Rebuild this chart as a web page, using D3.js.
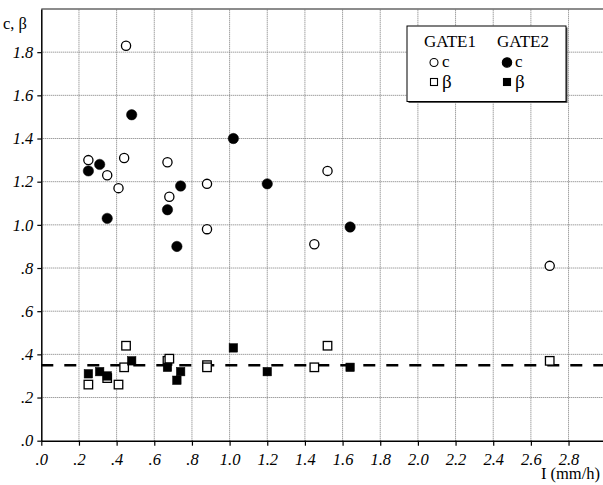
<!DOCTYPE html>
<html>
<head>
  <meta charset="utf-8">
  <title>c, beta vs I</title>
  <script src="https://d3js.org/d3.v7.min.js"></script>
  <style>
    body { margin: 0; background: #fff; }
    svg text { font-family: "Liberation Serif", "Times New Roman", serif; fill: #000; }
    .grid line { stroke: #777; stroke-width: 1; stroke-dasharray: 1,1; }
  </style>
</head>
<body>
  <svg id="screen"></svg>

  <script>
    // data (I in mm/h)
    const gate1_I    = [0.25, 0.35, 0.41, 0.44, 0.45, 0.67, 0.68, 0.88, 0.88, 1.45, 1.52, 2.70]
    const gate1_c    = [1.30, 1.23, 1.17, 1.31, 1.83, 1.29, 1.13, 1.19, 0.98, 0.91, 1.25, 0.81]
    const gate1_beta = [0.26, 0.29, 0.26, 0.34, 0.44, 0.37, 0.38, 0.35, 0.34, 0.34, 0.44, 0.37]

    const gate2_I    = [0.25, 0.31, 0.35, 0.48, 0.67, 0.72, 0.74, 1.02, 1.20, 1.64]
    const gate2_c    = [1.25, 1.28, 1.03, 1.51, 1.07, 0.90, 1.18, 1.40, 1.19, 0.99]
    const gate2_beta = [0.31, 0.32, 0.30, 0.37, 0.34, 0.28, 0.32, 0.43, 0.32, 0.34]

    const meanBeta = 0.35
    const xTicks = [0, 0.2, 0.4, 0.6, 0.8, 1.0, 1.2, 1.4, 1.6, 1.8, 2.0, 2.2, 2.4, 2.6, 2.8]
    const yTicks = [0, 0.2, 0.4, 0.6, 0.8, 1.0, 1.2, 1.4, 1.6, 1.8]

    const W = 603, H = 485
    const SERIF = '"Liberation Serif", "Times New Roman", serif'
    let frame = d3.select('#screen').attr('width', W).attr('height', H)

    let x = d3.scaleLinear().domain([0, 3]).range([41.3, 606.2])
    let y = d3.scaleLinear().domain([0, 2]).range([440.7, 9])

    // ".8" style labels, no leading zero below 1
    const fmt = d => {
      let s = d3.format('.1f')(d)
      return d < 1 ? s.slice(1) : s
    }

    // grid
    let grid = frame.append('g').attr('class', 'grid')
    grid.selectAll('.gx').data(xTicks.slice(1)).enter().append('line')
        .attr('x1', d => x(d)).attr('x2', d => x(d))
        .attr('y1', y(0)).attr('y2', y(2))
    grid.selectAll('.gy').data(yTicks.slice(1)).enter().append('line')
        .attr('x1', x(0)).attr('x2', x(3))
        .attr('y1', d => y(d)).attr('y2', d => y(d))

    // top border
    frame.append('line').attr('x1', x(0)).attr('x2', W)
         .attr('y1', y(2)).attr('y2', y(2))
         .attr('stroke', '#666').attr('stroke-width', 1.5)

    // axes
    let xAxis = frame.append('g').attr('transform', `translate(0,${y(0)})`)
      .call(d3.axisBottom(x).tickValues(xTicks).tickFormat(fmt).tickSize(5).tickSizeOuter(0).tickPadding(8))
    let yAxis = frame.append('g').attr('transform', `translate(${x(0)},0)`)
      .call(d3.axisLeft(y).tickValues(yTicks).tickFormat(fmt).tickSize(4).tickSizeOuter(0).tickPadding(4))

    ;[xAxis, yAxis].forEach(a => {
      a.attr('font-family', SERIF).attr('font-size', 16.5)
      a.select('.domain').attr('stroke-width', 1.5)
      a.selectAll('.tick line').attr('stroke-width', 1.2)
      a.selectAll('.tick text').style('font-family', SERIF).style('font-style', 'italic').style('font-size', '16.5px')
    })

    frame.append('text').attr('x', 3).attr('y', 29)
         .style('font-family', SERIF).style('font-size', '16.5px').text('c, β')
    frame.append('text').attr('x', 600).attr('y', 479).attr('text-anchor', 'end')
         .style('font-family', SERIF).style('font-size', '16.5px').text('I (mm/h)')

    // mean beta dashed line
    frame.append('line')
         .attr('x1', x(0)).attr('x2', W)
         .attr('y1', y(meanBeta)).attr('y2', y(meanBeta))
         .attr('stroke', '#000').attr('stroke-width', 2.5)
         .attr('stroke-dasharray', '12,11')

    const pts = (xs, ys) => xs.map((d, i) => ({x: d, y: ys[i]}))
    let marks = frame.append('g')

    function squares(data, filled, s) {
      marks.append('g').selectAll('rect').data(data).enter().append('rect')
        .attr('x', d => x(d.x) - s / 2).attr('y', d => y(d.y) - s / 2)
        .attr('width', s).attr('height', s)
        .attr('fill', filled ? '#000' : '#fff')
        .attr('stroke', '#000').attr('stroke-width', filled ? 0.5 : 1.3)
    }
    function circles(data, filled, r) {
      marks.append('g').selectAll('circle').data(data).enter().append('circle')
        .attr('cx', d => x(d.x)).attr('cy', d => y(d.y)).attr('r', r)
        .attr('fill', filled ? '#000' : '#fff')
        .attr('stroke', '#000').attr('stroke-width', filled ? 0.5 : 1.3)
    }

    squares(pts(gate1_I, gate1_beta), false, 8.5)
    squares(pts(gate2_I, gate2_beta), true, 8.5)
    circles(pts(gate1_I, gate1_c), false, 4.6)
    circles(pts(gate2_I, gate2_c), true, 5.2)

    // legend
    let lg = frame.append('g')
    lg.append('rect').attr('x', 408.5).attr('y', 27.5).attr('width', 159).attr('height', 75.5).attr('fill', '#555')
    lg.append('rect').attr('x', 407).attr('y', 26).attr('width', 159).attr('height', 75.5)
      .attr('fill', '#fff').attr('stroke', '#000').attr('stroke-width', 1)
    lg.append('text').attr('x', 424).attr('y', 47)
      .style('font-family', SERIF).style('font-size', '17px').text('GATE1')
    lg.append('text').attr('x', 497).attr('y', 47)
      .style('font-family', SERIF).style('font-size', '17px').text('GATE2')
    const legendRows = [
      {cx: 434, cy: 62.5, shape: 'circle', filled: false, t: 'c'},
      {cx: 507, cy: 62.5, shape: 'circle', filled: true, t: 'c'},
      {cx: 434, cy: 82, shape: 'square', filled: false, t: 'β'},
      {cx: 507, cy: 82, shape: 'square', filled: true, t: 'β'}
    ]
    legendRows.forEach(r => {
      if (r.shape === 'circle') {
        lg.append('circle').attr('cx', r.cx).attr('cy', r.cy).attr('r', r.filled ? 4.7 : 4)
          .attr('fill', r.filled ? '#000' : '#fff').attr('stroke', '#000').attr('stroke-width', 1.1)
      } else {
        lg.append('rect').attr('x', r.cx - 3.5).attr('y', r.cy - 3.5).attr('width', 7).attr('height', 7)
          .attr('fill', r.filled ? '#000' : '#fff').attr('stroke', '#000').attr('stroke-width', 1.1)
      }
      lg.append('text').attr('x', r.cx + 8).attr('y', r.cy + (r.t === 'c' ? 4.5 : 6))
        .style('font-family', SERIF).style('font-size', r.t === 'c' ? '17px' : '19px').text(r.t)
    })
  </script>
</body>
</html>
